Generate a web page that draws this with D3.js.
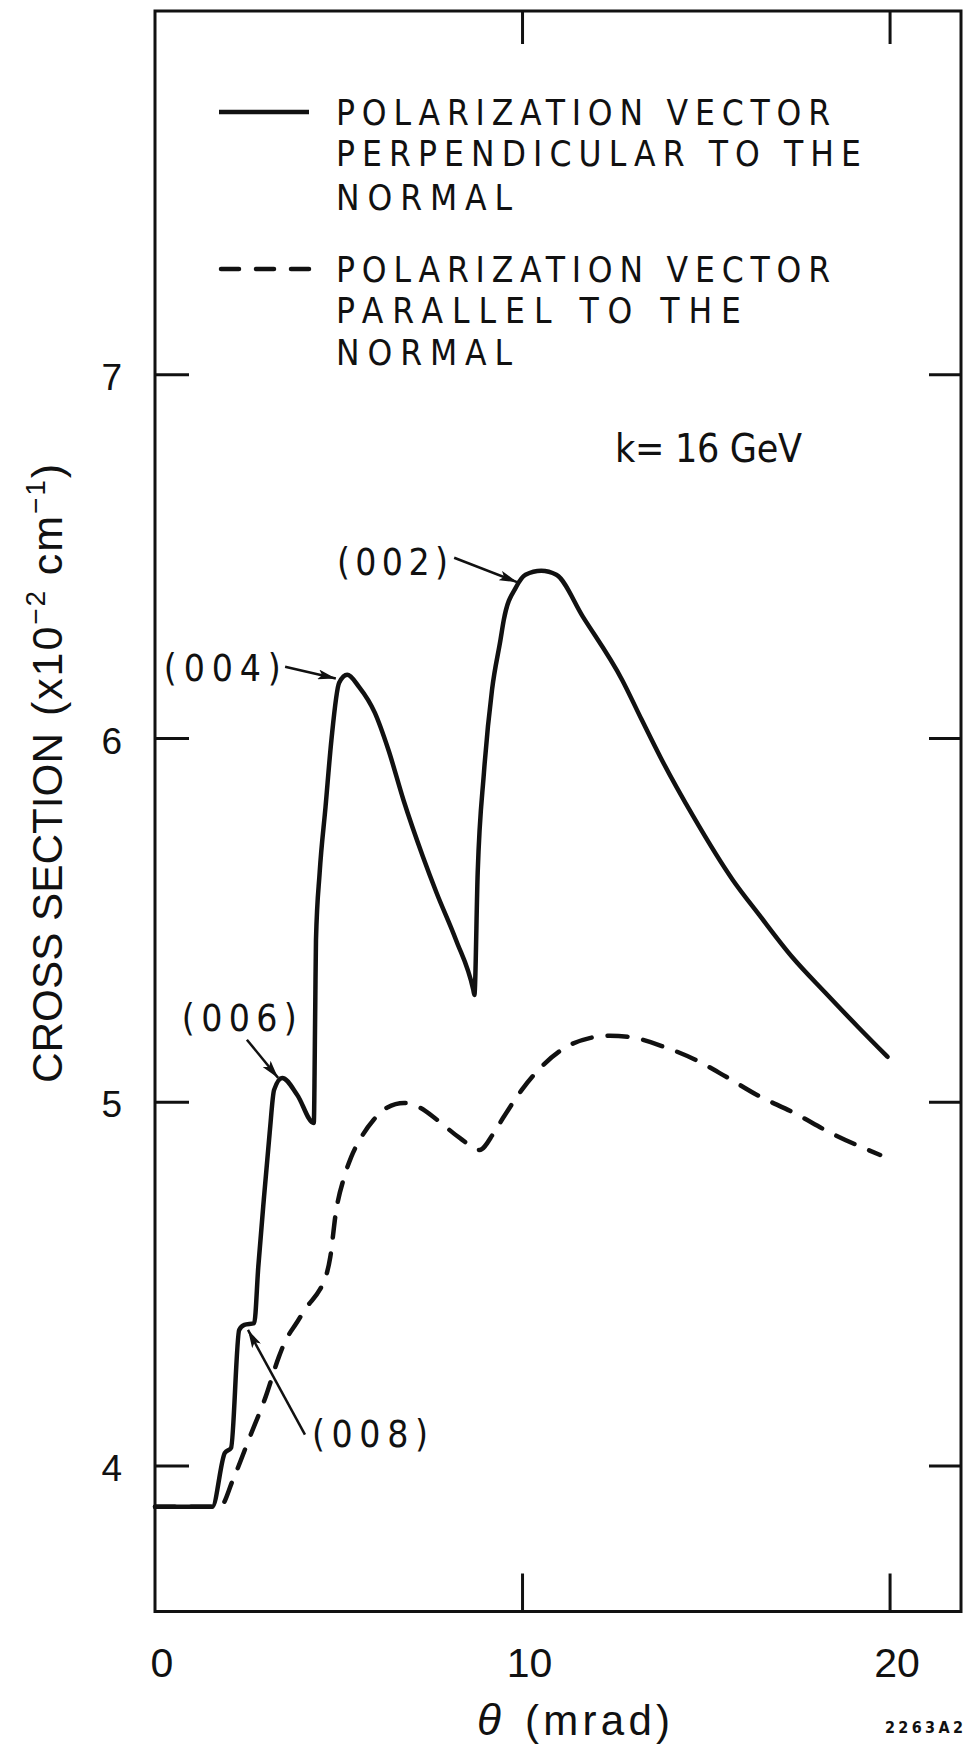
<!DOCTYPE html>
<html>
<head>
<meta charset="utf-8">
<script src="https://cdn.jsdelivr.net/npm/d3@7"></script>
<style>
  body { margin: 0; background: #fff; }
  svg { display: block; }
</style>
</head>
<body>
<script>
// perpendicular polarization (solid)
var perpTheta = [0, 1.56, 1.90, 2.07, 2.29, 2.43, 2.70, 2.81, 2.96, 3.12, 3.24, 3.46, 3.87, 4.32,
    4.36, 4.38, 4.48, 4.64, 4.80, 5.01, 5.23, 5.55, 5.98, 6.35, 6.76, 7.29, 7.66, 8.19, 8.66, 8.69,
    8.78, 8.95, 9.17, 9.40, 9.49, 9.83, 10.08, 10.51, 10.92, 11.64, 12.71, 13.24, 13.77, 14.65,
    15.72, 16.44, 17.33, 18.24, 19.13, 19.93];
var perpSigma = [3.888, 3.888, 4.036, 4.05, 4.374, 4.388, 4.393, 4.547, 4.732, 4.916, 5.034, 5.067, 5.020, 4.943,
    5.262, 5.446, 5.631, 5.812, 5.996, 6.153, 6.175, 6.142, 6.071, 5.969, 5.831, 5.675, 5.576, 5.446, 5.309, 5.295,
    5.631, 5.906, 6.134, 6.271, 6.326, 6.417, 6.450, 6.461, 6.450, 6.335, 6.161, 6.052, 5.945, 5.785,
    5.611, 5.515, 5.400, 5.301, 5.207, 5.125];

// parallel polarization (dashed)
var parTheta = [0, 1.77, 2.12, 2.58, 3.01, 3.37, 3.52, 3.85, 4.13, 4.48, 4.62, 4.77, 4.92, 5.15, 5.34,
    5.62, 5.95, 6.31, 6.78, 7.21, 7.67, 8.29, 8.83, 9.22, 9.49, 9.98, 10.51, 11.19, 11.85, 12.37,
    13.05, 13.86, 14.70, 15.54, 16.38, 17.38, 18.38, 19.73];
var parSigma = [3.888, 3.888, 3.962, 4.080, 4.190, 4.300, 4.338, 4.393, 4.437, 4.484, 4.512, 4.575, 4.696, 4.795, 4.850,
    4.905, 4.952, 4.985, 4.998, 4.985, 4.952, 4.902, 4.869, 4.916, 4.960, 5.034, 5.097, 5.152, 5.177, 5.183,
    5.177, 5.152, 5.117, 5.070, 5.020, 4.971, 4.916, 4.855];

var yTicks = [4, 5, 6, 7];
var xTicks = [0, 10, 20];
var xFrameTicks = [10, 20];

var legendPerp = ["POLARIZATION  VECTOR", "PERPENDICULAR  TO  THE", "NORMAL"];
var legendPar = ["POLARIZATION  VECTOR", "PARALLEL  TO  THE", "NORMAL"];

// reflection labels and their arrows (theta, sigma)
var peakLabels = ["(002)", "(004)", "(006)", "(008)"];
var labelPos = [[4.95, 6.45], [0.24, 6.159], [0.73, 5.196], [4.27, 4.053]];
var arrowFrom = [[8.14, 6.497], [3.54, 6.197], [2.50, 5.172], [4.08, 4.086]];
var arrowTo = [[9.85, 6.43], [4.92, 6.165], [3.35, 5.067], [2.53, 4.374]];

function init() {
    var w = 969;
    var h = 1747;
    var left = 155, right = 961, top = 11, bottom = 1611.5;
    var ink = "#111";
    var narrow = "'Liberation Sans Narrow', 'DejaVu Sans Condensed', 'Liberation Sans', sans-serif";
    var sans = "'Liberation Sans', Arial, sans-serif";

    var xScale = d3.scaleLinear().domain([0, 21.93]).range([left, right]);
    var yScale = d3.scaleLinear().domain([3.6, 8]).range([bottom, top]);

    var svg = d3.select("body")
        .append("svg")
        .attr("width", w)
        .attr("height", h);

    svg.append("defs").append("marker")
        .attr("id", "head")
        .attr("markerUnits", "userSpaceOnUse")
        .attr("markerWidth", 20)
        .attr("markerHeight", 10)
        .attr("refX", 18)
        .attr("refY", 5)
        .attr("orient", "auto")
        .append("path")
        .attr("d", "M0,0 L18,5 L0,10 L4,5 Z")
        .attr("fill", ink);

    // frame
    svg.append("rect")
        .attr("x", left)
        .attr("y", top)
        .attr("width", right - left)
        .attr("height", bottom - top)
        .attr("fill", "none")
        .attr("stroke", ink)
        .attr("stroke-width", 3);

    // inward ticks on all four sides
    var ticks = svg.append("g").attr("stroke", ink).attr("stroke-width", 3);
    yTicks.forEach(function(v) {
        ticks.append("line").attr("x1", left).attr("x2", left + 34)
            .attr("y1", yScale(v)).attr("y2", yScale(v));
        ticks.append("line").attr("x1", right - 32).attr("x2", right)
            .attr("y1", yScale(v)).attr("y2", yScale(v));
    });
    xFrameTicks.forEach(function(v) {
        ticks.append("line").attr("x1", xScale(v)).attr("x2", xScale(v))
            .attr("y1", bottom).attr("y2", bottom - 38);
        ticks.append("line").attr("x1", xScale(v)).attr("x2", xScale(v))
            .attr("y1", top).attr("y2", top + 33);
    });

    // tick labels
    svg.selectAll(".ylab")
        .data(yTicks)
        .enter()
        .append("text")
        .attr("x", left - 33)
        .attr("y", function(d) { return yScale(d) + 15; })
        .attr("text-anchor", "end")
        .attr("font-family", sans)
        .attr("font-size", 37)
        .attr("fill", ink)
        .text(function(d) { return d; });

    svg.selectAll(".xlab")
        .data(xTicks)
        .enter()
        .append("text")
        .attr("x", function(d) { return xScale(d) + 7; })
        .attr("y", 1677)
        .attr("text-anchor", "middle")
        .attr("font-family", sans)
        .attr("font-size", 41)
        .attr("fill", ink)
        .text(function(d) { return d; });

    // axis titles
    svg.append("text")
        .attr("x", 477)
        .attr("y", 1735)
        .attr("font-family", sans)
        .attr("font-style", "italic")
        .attr("font-size", 44)
        .attr("fill", ink)
        .text("\u03b8");
    svg.append("text")
        .attr("x", 525)
        .attr("y", 1735)
        .attr("font-family", sans)
        .attr("font-size", 42)
        .attr("textLength", 145)
        .attr("lengthAdjust", "spacing")
        .attr("fill", ink)
        .text("(mrad)");

    svg.append("text")
        .attr("transform", "translate(62,1083) rotate(-90)")
        .attr("font-family", sans)
        .attr("font-size", 43)
        .attr("textLength", 350)
        .attr("lengthAdjust", "spacingAndGlyphs")
        .attr("fill", ink)
        .text("CROSS  SECTION");

    var unit = svg.append("text")
        .attr("transform", "translate(62,716) rotate(-90)")
        .attr("font-family", sans)
        .attr("font-size", 43)
        .attr("textLength", 252)
        .attr("lengthAdjust", "spacing")
        .attr("fill", ink);
    unit.append("tspan").text("(x10");
    unit.append("tspan").attr("dy", -17).attr("font-size", 28).text("\u22122");
    unit.append("tspan").attr("dy", 17).text(" cm");
    unit.append("tspan").attr("dy", -17).attr("font-size", 28).text("\u22121");
    unit.append("tspan").attr("dy", 17).text(")");

    // curves
    var line = d3.line()
        .x(function(d) { return xScale(d[0]); })
        .y(function(d) { return yScale(d[1]); })
        .curve(d3.curveMonotoneX);

    svg.append("path")
        .attr("d", line(d3.zip(parTheta, parSigma)))
        .attr("fill", "none")
        .attr("stroke", ink)
        .attr("stroke-width", 4.5)
        .attr("stroke-linecap", "round")
        .attr("stroke-dasharray", "20,16");

    svg.append("path")
        .attr("d", line(d3.zip(perpTheta, perpSigma)))
        .attr("fill", "none")
        .attr("stroke", ink)
        .attr("stroke-width", 4.5)
        .attr("stroke-linejoin", "round")
        .attr("stroke-linecap", "round");

    // legend
    svg.append("line").attr("x1", 219).attr("x2", 309).attr("y1", 112).attr("y2", 112)
        .attr("stroke", ink).attr("stroke-width", 4.5);
    svg.append("line").attr("x1", 221).attr("x2", 309).attr("y1", 269).attr("y2", 269)
        .attr("stroke", ink).attr("stroke-width", 4.5)
        .attr("stroke-linecap", "round")
        .attr("stroke-dasharray", "18,17");

    var legendWidths = [[494, 525, 176], [494, 405, 176]];
    var legendBase = [[125, 166, 210], [282, 323, 365]];
    [legendPerp, legendPar].forEach(function(lines, k) {
        lines.forEach(function(t, i) {
            svg.append("text")
                .attr("x", 336)
                .attr("y", legendBase[k][i])
                .attr("font-family", narrow)
                .attr("font-size", 35)
                .attr("textLength", legendWidths[k][i])
                .attr("lengthAdjust", "spacing")
                .attr("fill", ink)
                .text(t);
        });
    });

    svg.append("text")
        .attr("x", 615)
        .attr("y", 462)
        .attr("font-family", narrow)
        .attr("font-size", 39)
        .attr("textLength", 187)
        .attr("lengthAdjust", "spacing")
        .attr("fill", ink)
        .text("k= 16  GeV");

    // reflection annotations
    var labelWidths = [111, 117, 115, 116];
    peakLabels.forEach(function(t, i) {
        svg.append("text")
            .attr("x", xScale(labelPos[i][0]))
            .attr("y", yScale(labelPos[i][1]))
            .attr("font-family", narrow)
            .attr("font-size", 37)
            .attr("textLength", labelWidths[i])
            .attr("lengthAdjust", "spacing")
            .attr("fill", ink)
            .text(t);
        svg.append("line")
            .attr("x1", xScale(arrowFrom[i][0]))
            .attr("y1", yScale(arrowFrom[i][1]))
            .attr("x2", xScale(arrowTo[i][0]))
            .attr("y2", yScale(arrowTo[i][1]))
            .attr("stroke", ink)
            .attr("stroke-width", 2.5)
            .attr("marker-end", "url(#head)");
    });

    svg.append("text")
        .attr("x", 885)
        .attr("y", 1733)
        .attr("font-family", narrow)
        .attr("font-weight", "bold")
        .attr("font-size", 16)
        .attr("textLength", 78)
        .attr("lengthAdjust", "spacing")
        .attr("fill", ink)
        .text("2263A2");
}
window.onload = init;
</script>
</body>
</html>
